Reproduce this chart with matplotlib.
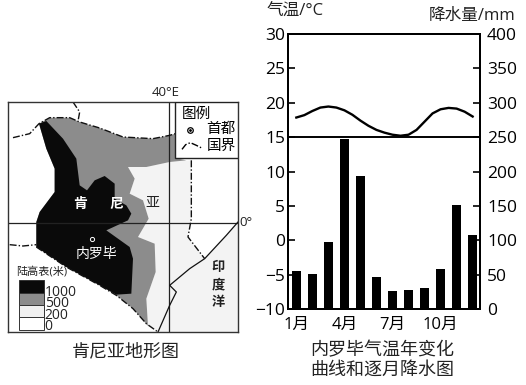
# -*- coding: utf-8 -*-
import matplotlib
matplotlib.use('Agg')
import matplotlib.pyplot as plt
from matplotlib.patches import Polygon, Rectangle

plt.rcParams['font.family'] = ['Open Sans', 'Noto Sans CJK SC', 'DejaVu Sans']

W, H = 526, 385

# climate data
months = [1, 2, 3, 4, 5, 6, 7, 8, 9, 10, 11, 12]
rain = [55, 51, 98, 247, 193, 46, 26, 28, 30, 58, 152, 107]
temp_x = [1, 1.5, 2, 2.5, 3, 3.5, 4, 4.5, 5, 5.5, 6, 6.5, 7, 7.5, 8, 8.5, 9, 9.5, 10, 10.5, 11, 11.5, 12]
temp = [17.85, 18.2, 18.8, 19.3, 19.45, 19.3, 18.9, 18.25, 17.4, 16.65, 16.05, 15.65,
        15.35, 15.2, 15.35, 16.05, 17.25, 18.45, 19.05, 19.25, 19.15, 18.7, 18.0]
temp_ticks = [-10, -5, 0, 5, 10, 15, 20, 25, 30]
rain_ticks = [0, 50, 100, 150, 200, 250, 300, 350, 400]
month_ticks = [1, 4, 7, 10]
month_labels = ['1月', '4月', '7月', '10月']

# map outlines, in map units
grey_area = [(118,115),(150,97),(210,97),(240,110),(300,128),(370,155),(460,160),(510,150),(527,145),
             (527,218),(560,225),(510,230),(440,245),(385,245),(405,280),(390,325),(430,345),(447,400),
             (415,455),(465,475),(468,560),(440,640),(445,722),(400,670),(350,630),(300,600),(200,545),
             (110,485),(110,410),(120,380),(165,320),(165,250),(140,190)]
black_area = [(118,115),(140,107),(190,160),(230,220),(240,300),(262,315),(285,285),(315,272),(345,295),
              (345,340),(380,360),(395,385),(385,405),(320,435),(390,485),(400,520),(395,625),(350,628),
              (300,600),(200,545),(110,485),(110,410),(120,380),(165,320),(165,250),(140,190)]
light_area = [(385,245),(440,245),(510,230),(575,225),(575,400),(565,455),(615,520),(570,550),(510,600),
              (530,620),(510,660),(475,740),(445,722),(440,640),(468,560),(465,475),(415,455),(447,400),
              (430,345),(390,325),(405,280)]
ocean = [(715,410),(680,450),(615,520),(570,550),(510,600),(530,620),(510,660),(475,740),(715,740)]
coast = ocean[:8]
border_n = [(40,157),(90,145),(118,115),(150,97),(210,97),(240,110),(300,128),(370,155),(460,160),(510,150),(527,145)]
border_e = [(575,225),(575,400),(565,455),(615,520)]
border_w = [(30,478),(70,482),(110,478)]
border_s = [(110,485),(200,545),(300,600),(350,630),(400,670),(440,715),(475,740)]
border_u = [(220,50),(240,80),(235,108)]
scale_cols = ['#0a0a0a', '#8c8c8c', '#f0f0f0', '#ffffff']
scale_labels = ['1000', '500', '200', '0']

fig = plt.figure(figsize=(W / 100, H / 100), dpi=100)

#%% map
m = fig.add_axes([8 / W, 1 - 332 / H, 230 / W, 230 / H])
m.set_xlim(25, 715)
m.set_ylim(740, 50)
m.set_xticks([])
m.set_yticks([])
for s in m.spines.values():
    s.set_linewidth(1.0)
    s.set_color('#333333')

m.add_patch(Polygon(ocean, fc='#f3f3f3', ec='none'))
m.add_patch(Polygon(light_area, fc='#f3f3f3', ec='none'))
m.add_patch(Polygon(grey_area, fc='#8c8c8c', ec='none'))
m.add_patch(Polygon(black_area, fc='#0a0a0a', ec='none'))

m.axhline(413, color='#222222', lw=0.9)
m.axvline(508, color='#222222', lw=0.9)
m.plot(*zip(*coast), color='#111111', lw=0.9)
for b in [border_n, border_e, border_w, border_s, border_u]:
    m.plot(*zip(*b), color='#111111', lw=1.0, ls=(0, (5, 1.5, 1, 1.5)))

# legend box
m.add_patch(Rectangle((527, 50), 188, 168, fc='white', ec='#222222', lw=1.0, zorder=5))
m.text(590, 88, '图例', fontsize=10.5, ha='center', va='center', zorder=6)
m.plot(570, 133, 'o', ms=4, mfc='white', mec='black', mew=0.9, zorder=6)
m.plot(570, 133, 'o', ms=1, color='black', zorder=6)
m.text(662, 133, '首都', fontsize=10.5, ha='center', va='center', zorder=6)
m.plot([547, 558, 572, 590, 606], [192, 178, 172, 180, 188], color='black', lw=1.0,
       ls=(0, (5, 1.5, 1, 1.5)), zorder=6)
m.text(665, 182, '国界', fontsize=10.5, ha='center', va='center', zorder=6)

# labels on the map
for txt, x in [('肯', 242), ('尼', 350), ('亚', 457)]:
    m.text(x, 355, txt, fontsize=10, color='#222222' if txt == '亚' else 'white', ha='center', va='center',
           fontweight='bold' if txt != '亚' else 'normal')
m.text(290, 507, '内罗毕', fontsize=10, color='white', ha='center', va='center')
m.plot(278, 460, 'o', ms=3, mfc='none', mec='white', mew=0.7)
for txt, y in [('印', 545), ('度', 600), ('洋', 652)]:
    m.text(655, y, txt, fontsize=9.5, fontweight='bold', color='#222222', ha='center', va='center')

# height scale
m.text(125, 560, '陆高表(米)', fontsize=8, color='#222222', ha='center', va='center')
for i, c in enumerate(scale_cols):
    m.add_patch(Rectangle((58, 585 + i * 37), 74, 37, fc=c, ec='#333333', lw=0.7))
    m.text(135, 620 + i * 35, scale_labels[i], fontsize=10, color='#222222', ha='left', va='center')

fig.text(126 / W, 1 - 351 / H, '肯尼亚地形图', fontsize=13, color='#222222', ha='center', va='center')
fig.text(166 / W, 1 - 93 / H, '40°E', fontsize=9.5, ha='center', va='center', color='#222222')
fig.text(246 / W, 1 - 222 / H, '0°', fontsize=9.5, ha='center', va='center', color='#222222')

#%% climate chart
ax = fig.add_axes([288 / W, 1 - 309 / H, 192 / W, 275 / H])
ax.set_xlim(0.48, 12.46)
ax.set_ylim(-10, 30)
ax.set_yticks(temp_ticks)
ax.set_xticks(month_ticks)
ax.set_xticklabels(month_labels)
ax.tick_params(axis='y', direction='in', length=5, width=1.2, labelsize=12.5, pad=2)
ax.tick_params(axis='x', length=0, labelsize=12, pad=6)
ax.axhline(15, color='black', lw=1.4)
ax.plot(temp_x, temp, color='black', lw=1.7)

ax2 = ax.twinx()
ax2.set_ylim(0, 400)
ax2.set_yticks(rain_ticks)
ax2.tick_params(axis='y', direction='in', length=5, width=1.2, labelsize=12.5, pad=5)
ax2.bar(months, rain, width=0.54, color='black')
for a in (ax, ax2):
    for s in a.spines.values():
        s.set_linewidth(1.4)

fig.text(295 / W, 1 - 12 / H, '气温/°C', fontsize=12, color='#222222', ha='center', va='center')
fig.text(472 / W, 1 - 16 / H, '降水量/mm', fontsize=12, color='#222222', ha='center', va='center')
fig.text(382 / W, 1 - 350 / H, '内罗毕气温年变化', fontsize=13, color='#222222', ha='center', va='center')
fig.text(382 / W, 1 - 370 / H, '曲线和逐月降水图', fontsize=13, color='#222222', ha='center', va='center')

fig.savefig('out.png', dpi=100)
